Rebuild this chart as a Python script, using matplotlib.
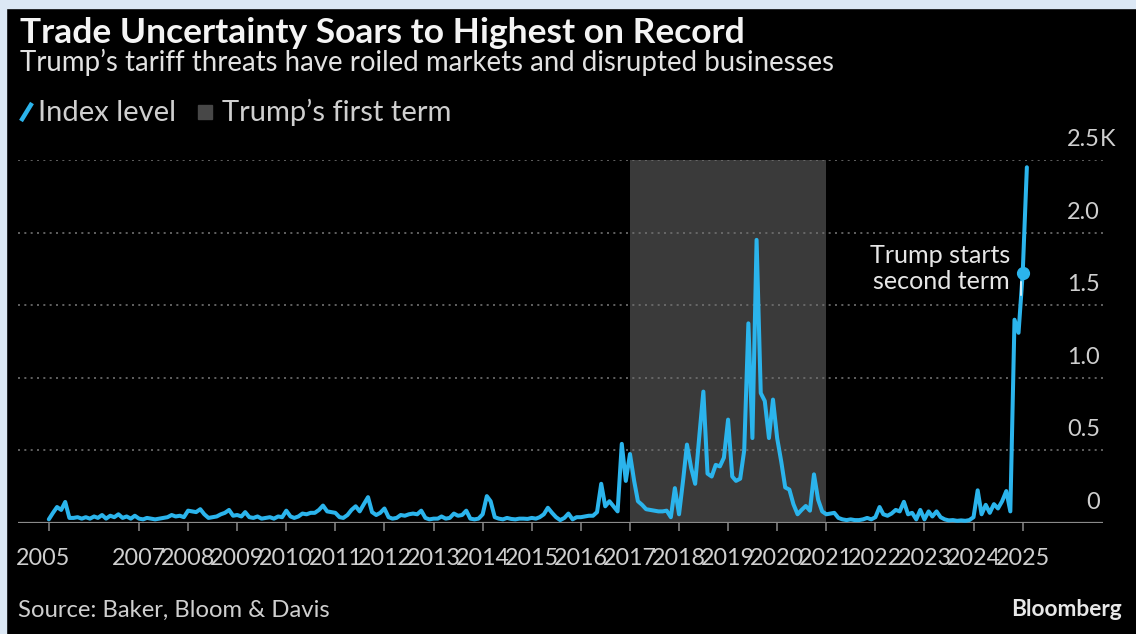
import numpy as np
import pandas as pd
import matplotlib
matplotlib.use("Agg")
import matplotlib.pyplot as plt
import matplotlib.dates as mdates
from matplotlib.transforms import blended_transform_factory, offset_copy
from matplotlib.patches import Rectangle
from matplotlib.lines import Line2D

# ---------------- data ----------------
title = "Trade Uncertainty Soars to Highest on Record"
subtitle = "Trump\u2019s tariff threats have roiled markets and disrupted businesses"
legend_line = "Index level"
legend_span = "Trump\u2019s first term"
source = "Source: Baker, Bloom & Davis"
brand = "Bloomberg"
annot_lines = ["Trump starts", "second term"]

start_month = "2005-03-01"
y2005 = [25, 70, 110, 90, 145, 35, 35, 40, 30, 40]          # Mar-Dec
y2006 = [30, 45, 35, 55, 30, 50, 40, 60, 35, 45, 30, 50]
y2007 = [30, 25, 35, 30, 25, 30, 35, 40, 55, 45, 50, 40]
y2008 = [85, 80, 75, 95, 60, 35, 40, 45, 60, 70, 90, 50]
y2009 = [55, 45, 75, 40, 35, 45, 30, 35, 40, 30, 45, 40]
y2010 = [85, 45, 35, 45, 65, 60, 70, 70, 90, 120, 80, 75]
y2011 = [70, 40, 35, 55, 90, 115, 80, 130, 178, 75, 55, 70]
y2012 = [100, 40, 30, 35, 55, 50, 60, 65, 60, 85, 35, 25]
y2013 = [30, 30, 45, 30, 35, 65, 50, 55, 85, 30, 25, 30]
y2014 = [60, 185, 150, 40, 30, 25, 35, 28, 25, 30, 30, 28]
y2015 = [35, 30, 40, 60, 105, 70, 40, 20, 35, 65, 25, 40]
y2016 = [40, 45, 50, 50, 75, 270, 115, 150, 115, 80, 545, 290]
y2017 = [475, 290, 150, 125, 95, 90, 85, 80, 80, 85, 40, 240]
y2018 = [60, 300, 540, 380, 270, 600, 905, 340, 320, 400, 390, 450]
y2019 = [712, 320, 290, 305, 500, 1375, 585, 1950, 895, 840, 585, 850]
y2020 = [585, 420, 245, 230, 130, 60, 90, 117, 85, 335, 160, 80]
y2021 = [60, 65, 70, 35, 25, 20, 25, 20, 20, 25, 35, 25]
y2022 = [40, 110, 60, 50, 65, 90, 80, 146, 60, 70, 25, 90]
y2023 = [25, 80, 45, 80, 40, 25, 18, 20, 15, 18, 15, 20]
y2024 = [40, 225, 60, 125, 70, 130, 100, 150, 220, 80, 1400, 1310]
y2025 = [1720, 2450]                                          # Jan-Feb

values = (y2005 + y2006 + y2007 + y2008 + y2009 + y2010 + y2011 + y2012 +
          y2013 + y2014 + y2015 + y2016 + y2017 + y2018 + y2019 + y2020 +
          y2021 + y2022 + y2023 + y2024 + y2025)
dates = pd.date_range(start_month, periods=len(values), freq="MS")

term1_start, term1_end = "2017-01-01", "2021-01-01"
second_term = "2025-01-01"

x_tick_dates = ["2005-03-01"] + [f"{y}-01-01" for y in range(2007, 2026)]
x_tick_labels = ["2005"] + [str(y) for y in range(2007, 2026)]
y_ticks = [0, 500, 1000, 1500, 2000, 2500]
y_tick_labels = ["0", "0.5", "1.0", "1.5", "2.0", "2.5"]

# ---------------- style ----------------
W, H = 1136, 634
BLUE = "#2bb4ec"
SHADE = "#3a3a3a"
GRID = "#707070"
AXIS = "#8a8a8a"
TXT = "#cfcfcf"
FONT = "Lato"

def fx(px):
    return px / W

def fy(py):
    return 1 - py / H

fig = plt.figure(figsize=(W / 100, H / 100), dpi=100, facecolor="black")

# light frame at left and top
fig.patches.append(Rectangle((0, 0), fx(6), 1, transform=fig.transFigure,
                             color="#dce8f5", zorder=10))
fig.patches.append(Rectangle((0, fy(8)), 1, 8 / H, transform=fig.transFigure,
                             color="#dce8f5", zorder=10))

ax = fig.add_axes([fx(18), fy(523), fx(1103) - fx(18), (523 - 160) / H])
ax.set_facecolor("none")
for s in ax.spines.values():
    s.set_visible(False)

d2007 = mdates.date2num(pd.Timestamp("2007-01-01"))
d2025 = mdates.date2num(pd.Timestamp("2025-01-01"))
ppd = (1022.7 - 139.0) / (d2025 - d2007)
ax.set_xlim(d2007 - (139 - 18) / ppd, d2025 + (1103 - 1022.7) / ppd)
ax.set_ylim(0, 2500)

ax.axvspan(pd.Timestamp(term1_start), pd.Timestamp(term1_end),
           color=SHADE, lw=0, zorder=0)
for v in y_ticks[1:]:
    ax.axhline(v, color=GRID, lw=1.2, linestyle=(0, (1.2, 2.6)), zorder=1)
ax.axhline(0, color=AXIS, lw=1.6, zorder=2)

ax.plot(dates, values, color=BLUE, lw=2.9, zorder=4, clip_on=False,
        solid_joinstyle="round", solid_capstyle="round")

st_val = values[list(dates).index(pd.Timestamp(second_term))]
conn = offset_copy(ax.transData, fig=fig, x=-1.5, y=0, units="dots")
ax.plot([pd.Timestamp(second_term)] * 2, [st_val - 60, 1570], color="white",
        lw=1.1, zorder=5, transform=conn)
ax.plot([pd.Timestamp(second_term)], [st_val], "o", ms=8.5, color=BLUE,
        zorder=6, clip_on=False)

ax.set_xticks([pd.Timestamp(d) for d in x_tick_dates])
ax.tick_params(axis="x", length=6, width=1.1, color=AXIS, labelbottom=False,
               direction="out")
ax.set_yticks([])

renderer = fig.canvas.get_renderer()

def fit(t, target):
    w = t.get_window_extent(renderer).width
    t.set_fontsize(t.get_fontsize() * target / w)

# year labels
xt = blended_transform_factory(ax.transData, fig.transFigure)
probe = fig.text(0, 0, "2025", fontsize=14, family=FONT)
fit(probe, 54)
yr_fs = probe.get_fontsize()
probe.remove()
for k, (d, lab) in enumerate(zip(x_tick_dates, x_tick_labels)):
    tr = offset_copy(xt, fig=fig, x=-6 if k == 0 else 0, y=0, units="dots")
    ax.text(mdates.date2num(pd.Timestamp(d)), fy(565), lab, transform=tr,
            ha="center", va="baseline", fontsize=yr_fs, color=TXT,
            family=FONT)

# y labels (above the gridlines, right aligned)
probe = fig.text(0, 0, "2.0", fontsize=14, family=FONT)
fit(probe, 33)
y_fs = probe.get_fontsize()
probe.remove()
yt = offset_copy(blended_transform_factory(fig.transFigure, ax.transData),
                 fig=fig, x=0, y=14, units="dots")
for v, lab in zip(y_ticks, y_tick_labels):
    ax.text(fx(1100), v, lab, transform=yt, ha="right", va="baseline",
            fontsize=y_fs, color=TXT, family=FONT)
ax.text(fx(1100), y_ticks[-1], "K", transform=yt, ha="left", va="baseline",
        fontsize=y_fs, color=TXT, family=FONT)

# annotation
a_fs = None
for k, (lab, base, w) in enumerate(zip(annot_lines, [263, 289], [141, 136])):
    t = fig.text(fx(1010), fy(base), lab, ha="right", va="baseline",
                 fontsize=14, color="#e6e6e6", family=FONT)
    if a_fs is None:
        fit(t, w)
        a_fs = t.get_fontsize()
    else:
        t.set_fontsize(a_fs)

# header texts
t = fig.text(fx(20), fy(43), title, ha="left", va="baseline", fontsize=20,
             fontweight="bold", color="#f4f4f4", family=FONT)
fit(t, 725)
t = fig.text(fx(20), fy(71), subtitle, ha="left", va="baseline", fontsize=16,
             color="#e2e2e2", family=FONT)
fit(t, 818)

# legend
fig.add_artist(Line2D([fx(21), fx(32)], [fy(121), fy(103)],
                      transform=fig.transFigure, color=BLUE, lw=3.2,
                      solid_capstyle="butt"))
fig.patches.append(Rectangle((fx(198), fy(119)), fx(14), 14 / H,
                             transform=fig.transFigure, color="#474747"))
t = fig.text(fx(38), fy(121), legend_line, ha="left", va="baseline",
             fontsize=16, color=TXT, family=FONT)
fit(t, 138)
lg_fs = t.get_fontsize()
fig.text(fx(222), fy(121), legend_span, ha="left", va="baseline",
         fontsize=lg_fs, color=TXT, family=FONT)

# footer
t = fig.text(fx(18), fy(617), source, ha="left", va="baseline", fontsize=15,
             color=TXT, family=FONT)
fit(t, 312)
t = fig.text(fx(1122), fy(616), brand, ha="right", va="baseline",
             fontsize=15, fontweight="bold", color="#e8e8e8", family=FONT)
fit(t, 112)

fig.savefig("out.png", dpi=100, facecolor="black")
